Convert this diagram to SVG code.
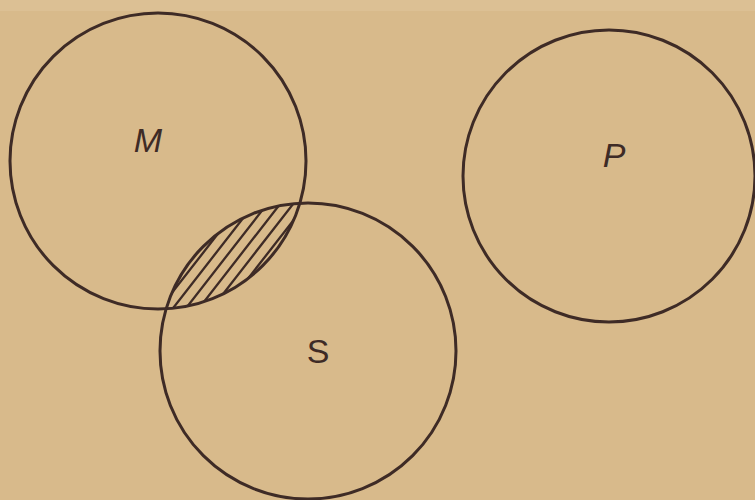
<svg xmlns="http://www.w3.org/2000/svg" width="755" height="500" viewBox="0 0 755 500">
  <style>
    .ring { fill: none; stroke: #3e2b26; stroke-width: 3; }
    .hatch { stroke: #3e2b26; stroke-width: 2.3; }
    .lbl { font-family: "Liberation Sans", "DejaVu Sans", sans-serif; font-size: 34px; fill: #3e2b26; text-anchor: middle; }
    .it { font-style: italic; }
  </style>
  <defs>
    <clipPath id="clipM">
      <circle cx="158" cy="161" r="148"/>
    </clipPath>
    <clipPath id="clipS">
      <circle cx="308" cy="351" r="148"/>
    </clipPath>
  </defs>
  <rect x="0" y="0" width="755" height="500" fill="#d8ba8b"/>
  <rect x="0" y="0" width="755" height="11" fill="#dcc094"/>

  <g id="hatching" clip-path="url(#clipM)">
    <g clip-path="url(#clipS)">
      <path class="hatch" d="M60,420 L260,163 M73,420 L273,163 M86,420 L286,163 M99,420 L299,163 M112,420 L312,163 M125,420 L325,163 M138,420 L338,163 M151,420 L351,163 M164,420 L364,163 M177,420 L377,163 M190,420 L390,163 M203,420 L403,163 M216,420 L416,163 M229,420 L429,163 M242,420 L442,163"/>
    </g>
  </g>

  <g id="M">
    <circle class="ring" cx="158" cy="161" r="148"/>
    <text class="lbl it" x="148" y="152">M</text>
  </g>
  <g id="S">
    <circle class="ring" cx="308" cy="351" r="148"/>
    <text class="lbl" x="318" y="363">S</text>
  </g>
  <g id="P">
    <circle class="ring" cx="609" cy="176" r="146"/>
    <text class="lbl it" x="614" y="167">P</text>
  </g>
  <g id="connectors"></g>
</svg>
